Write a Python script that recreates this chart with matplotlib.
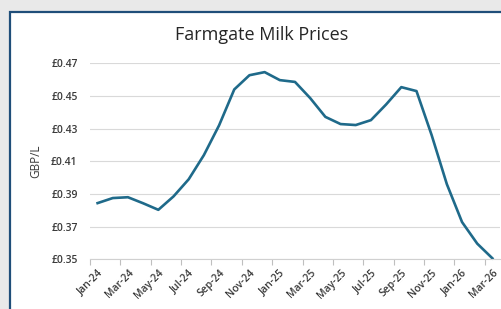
import numpy as np
import matplotlib.pyplot as plt
from matplotlib.patches import Rectangle

months = ['Jan-24', 'Feb-24', 'Mar-24', 'Apr-24', 'May-24', 'Jun-24', 'Jul-24', 'Aug-24',
          'Sep-24', 'Oct-24', 'Nov-24', 'Dec-24', 'Jan-25', 'Feb-25', 'Mar-25', 'Apr-25',
          'May-25', 'Jun-25', 'Jul-25', 'Aug-25', 'Sep-25', 'Oct-25', 'Nov-25', 'Dec-25',
          'Jan-26', 'Feb-26', 'Mar-26']
prices = [0.3844, 0.3875, 0.3880, 0.3843, 0.3803, 0.3885, 0.3990, 0.4138,
          0.4320, 0.4540, 0.4627, 0.4646, 0.4597, 0.4586, 0.4487, 0.4372,
          0.4328, 0.4322, 0.4352, 0.4448, 0.4554, 0.4530, 0.4260, 0.3960,
          0.3728, 0.3596, 0.3506]
yticks = [0.35, 0.37, 0.39, 0.41, 0.43, 0.45, 0.47]

plt.rcParams['font.family'] = ['Open Sans', 'DejaVu Sans']

fig = plt.figure(figsize=(5.02, 3.09), dpi=100)
fig.patch.set_facecolor('#e9e9e9')

# white chart panel with navy border
panel = Rectangle((10 / 502, -0.1), 1.2, 1 - 12 / 309 + 0.1, transform=fig.transFigure,
                  facecolor='white', edgecolor='#1f4e79', linewidth=1.6, zorder=-5)
fig.patches.append(panel)

ax = fig.add_axes([90 / 502, (309 - 259.3) / 309, 410 / 502, 196 / 309])
ax.set_zorder(2)
ax.set_facecolor('none')

x = np.arange(len(months))
ax.plot(x, prices, color='#1f6a8a', linewidth=1.9, solid_joinstyle='round', clip_on=False)

ax.set_xlim(-0.5, len(months) - 0.5)
ax.set_ylim(0.35, 0.47)
ax.set_yticks(yticks)
ax.set_yticklabels(['£%.2f' % v for v in yticks])
ax.yaxis.grid(True, color='#d9d9d9', linewidth=0.8)
ax.set_axisbelow(True)

ax.set_xticks(x[::2])
ax.set_xticklabels(months[::2], rotation=45, ha='right', va='top', rotation_mode='anchor')
ax.set_xticks(np.arange(-0.5, len(months), 2), minor=True)
ax.tick_params(axis='x', which='major', length=0, pad=6, labelsize=7.5, colors='#3a3a3a')
ax.tick_params(axis='x', which='minor', length=4, color='#bfbfbf', width=0.8)
ax.tick_params(axis='y', length=0, pad=9, labelsize=7.5, colors='#3a3a3a')
for lab in ax.get_xticklabels() + ax.get_yticklabels():
    lab.set_fontweight('semibold')

for s in ['top', 'right', 'left']:
    ax.spines[s].set_visible(False)
ax.spines['bottom'].set_color('#d0d0d0')
ax.spines['bottom'].set_linewidth(0.8)

ax.set_ylabel('GBP/L', fontsize=8.5, color='#3a3a3a', labelpad=6)
fig.text(262 / 502, 1 - 35 / 309, 'Farmgate Milk Prices', ha='center', va='center',
         fontsize=13, color='#262626', zorder=3)

fig.savefig('out.png', dpi=100, facecolor=fig.get_facecolor())
